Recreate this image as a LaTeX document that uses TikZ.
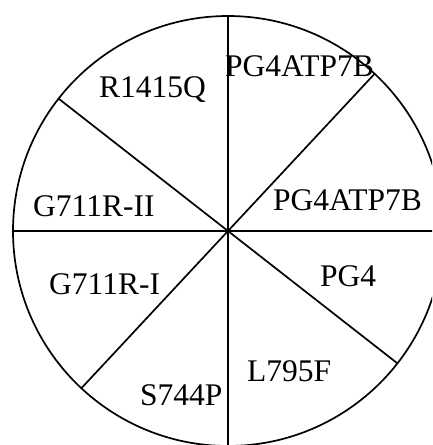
\documentclass[tikz,border=0pt]{standalone}
\usepackage{fontspec}
\setmainfont{Liberation Serif}
\begin{document}
\begin{tikzpicture}[x=1pt,y=1pt,
  lab/.style={font=\fontsize{31.5}{33}\selectfont, inner sep=0pt, anchor=base west},
  ln/.style={line width=1.7pt}]
\useasboundingbox (0,0) rectangle (432,445);
\clip (0,0) rectangle (432,445);
\coordinate (c) at (228,214);
\node[draw, circle, minimum size=430pt, inner sep=0pt, outer sep=0pt, line width=1.7pt] (circ) at (c) {};
\draw[ln] (circ.north) -- (circ.south);
\draw[ln] (circ.west) -- (circ.east);
\draw[ln] (circ.47) -- (circ.227);
\draw[ln] (circ.142) -- (circ.-38);
\node[lab] (pga) at (225,368) {PG4ATP7B};
\node[lab] (r1415q) at (99,347) {R1415Q};
\node[lab] (pgb) at (273,234) {PG4ATP7B};
\node[lab] (g2) at (33,228) {G711R-II};
\node[lab] (g1) at (49,150) {G711R-I};
\node[lab] (pg4) at (320,158) {PG4};
\node[lab] (l795f) at (247,63) {L795F};
\node[lab] (s744p) at (140,39) {S744P};
\end{tikzpicture}
\end{document}
